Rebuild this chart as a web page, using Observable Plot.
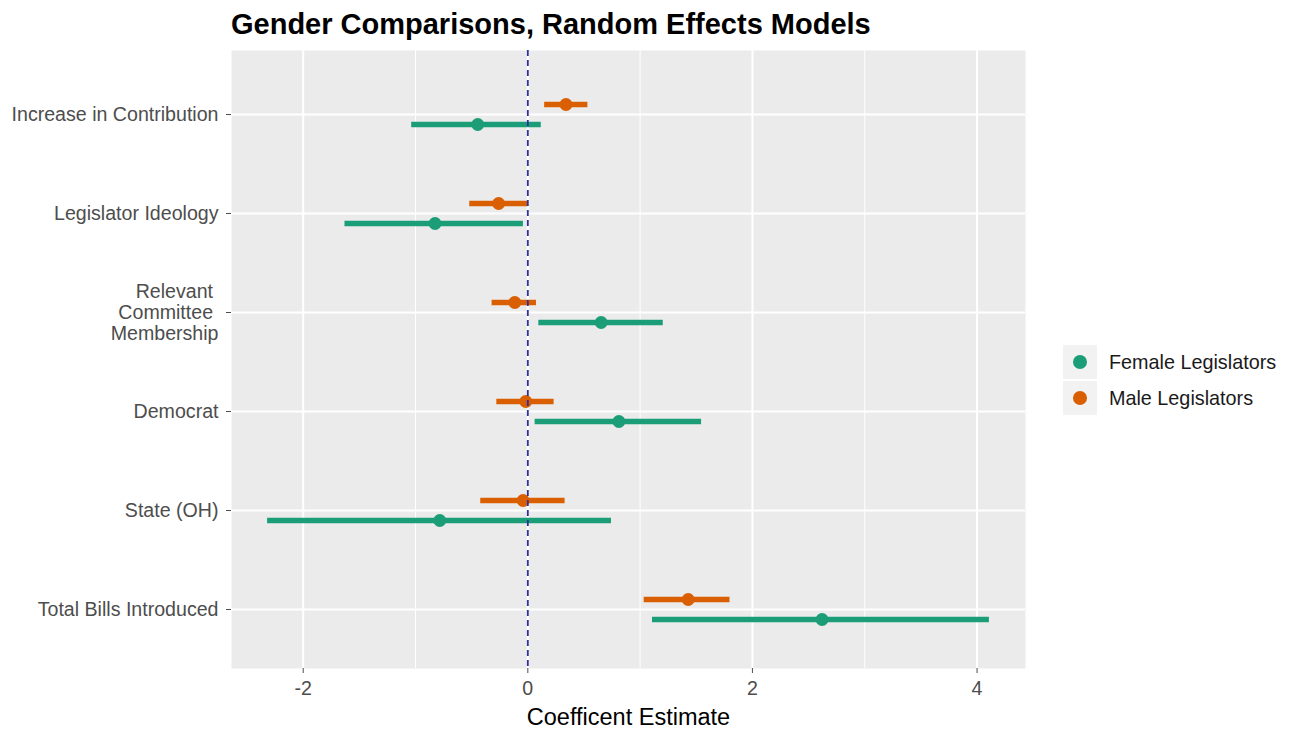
<!DOCTYPE html>
<html>
<head>
<meta charset="utf-8">
<script src="https://cdn.jsdelivr.net/npm/d3@7"></script>
<script src="https://cdn.jsdelivr.net/npm/@observablehq/plot@0.6"></script>
<style>
  html, body { margin: 0; padding: 0; background: #fff; }
  #wrap { position: relative; width: 1296px; height: 731px; font-family: "Liberation Sans", Arial, sans-serif; }
  #title { position: absolute; left: 231px; top: 10px; font-size: 29px; line-height: 29px; font-weight: bold; color: #000; white-space: nowrap; }
  #legend { position: absolute; left: 1063px; top: 345px; }
  .key { position: relative; height: 36px; width: 240px; }
  .sw { position: absolute; left: 0; top: 0; width: 34px; height: 34px; background: #F2F2F2; }
  .dotk { position: absolute; left: 10px; top: 10px; width: 14px; height: 14px; border-radius: 50%; }
  .lab { position: absolute; left: 46px; top: 7px; font-size: 19.8px; line-height: 20px; color: #1A1A1A; white-space: nowrap; }
</style>
</head>
<body>
<div id="wrap">
  <div id="title">Gender Comparisons, Random Effects Models</div>
  <div id="chart"></div>
  <div id="legend"></div>
</div>
<script>
const terms = ["Increase in Contribution", "Legislator Ideology", "Relevant Committee Membership", "Democrat", "State (OH)", "Total Bills Introduced"];
const termTickLabels = ["Increase in Contribution", "Legislator Ideology", "Relevant\u00A0\nCommittee\u00A0\nMembership", "Democrat", "State (OH)", "Total Bills Introduced"];
const groups = ["Female Legislators", "Male Legislators"];
const groupColors = ["#1B9E77", "#D95F02"];
const femaleEst = [-0.446, -0.826, 0.653, 0.811, -0.784, 2.62];
const femaleLo  = [-1.034, -1.628, 0.098, 0.065, -2.317, 1.11];
const femaleHi  = [0.12, -0.039, 1.206, 1.547, 0.745, 4.11];
const maleEst = [0.34, -0.26, -0.116, -0.018, -0.042, 1.428];
const maleLo  = [0.15, -0.517, -0.318, -0.276, -0.419, 1.036];
const maleHi  = [0.535, 0.0, 0.077, 0.234, 0.332, 1.80];
const xMajorTicks = [-2, 0, 2, 4];
const xTickLabels = ["-2", "0", "2", "4"];
const xMinorTicks = [-1, 1, 3];
const xTitle = "Coefficent Estimate";

const female = terms.map((t, i) => ({term: t, est: femaleEst[i], lo: femaleLo[i], hi: femaleHi[i], group: groups[0]}));
const male = terms.map((t, i) => ({term: t, est: maleEst[i], lo: maleLo[i], hi: maleHi[i], group: groups[1]}));
const allVals = [...femaleLo, ...femaleHi, ...maleLo, ...maleHi];
const lo = d3.min(allVals), hi = d3.max(allVals), pad = (hi - lo) * 0.05;
const labelOf = new Map(terms.map((t, i) => [t, termTickLabels[i]]));
const xLabelOf = new Map(xMajorTicks.map((t, i) => [t, xTickLabels[i]]));

const dodge = 10;
const chart = Plot.plot({
  width: 1296,
  height: 731,
  marginLeft: 231,
  marginRight: 271,
  marginTop: 50,
  marginBottom: 63,
  style: {fontFamily: "'Liberation Sans', Arial, sans-serif", fontSize: "19.6px", color: "#4D4D4D", background: "transparent"},
  x: {domain: [lo - pad, hi + pad]},
  y: {type: "point", domain: terms, padding: 0.6, insetTop: 1.6, insetBottom: -3},
  color: {domain: groups, range: groupColors},
  marks: [
    Plot.frame({fill: "#EBEBEB", stroke: null}),
    Plot.gridX(xMinorTicks, {stroke: "white", strokeOpacity: 1, strokeWidth: 1}),
    Plot.gridX(xMajorTicks, {stroke: "white", strokeOpacity: 1, strokeWidth: 2}),
    Plot.gridY(terms, {stroke: "white", strokeOpacity: 1, strokeWidth: 2}),
    Plot.axisX(xMajorTicks, {tickSize: 5, tickPadding: 8, tickFormat: d => xLabelOf.get(d), label: null, fontSize: 19.6}),
    Plot.axisY(terms, {tickSize: 5, tickPadding: 8, tickFormat: d => labelOf.get(d), label: null, fontSize: 19.6, lineHeight: 1.08}),
    Plot.ruleY(female, {y: "term", x1: "lo", x2: "hi", stroke: "group", strokeWidth: 5.5, dy: dodge}),
    Plot.dot(female, {y: "term", x: "est", fill: "group", r: 6.5, dy: dodge}),
    Plot.ruleY(male, {y: "term", x1: "lo", x2: "hi", stroke: "group", strokeWidth: 5.5, dy: -dodge}),
    Plot.dot(male, {y: "term", x: "est", fill: "group", r: 6.5, dy: -dodge}),
    Plot.ruleX([0], {stroke: "#2E2EA0", strokeWidth: 1.8, strokeDasharray: "6,4"}),
    Plot.text([xTitle], {frameAnchor: "bottom", dy: 48.5, fontSize: 23.5, fill: "#000", lineAnchor: "middle"})
  ]
});
document.getElementById("chart").appendChild(chart);

const legend = document.getElementById("legend");
groups.forEach((g, i) => {
  const k = document.createElement("div");
  k.className = "key";
  k.innerHTML = `<div class="sw"><div class="dotk" style="background:${groupColors[i]}"></div></div><div class="lab">${g}</div>`;
  legend.appendChild(k);
});
</script>
</body>
</html>
